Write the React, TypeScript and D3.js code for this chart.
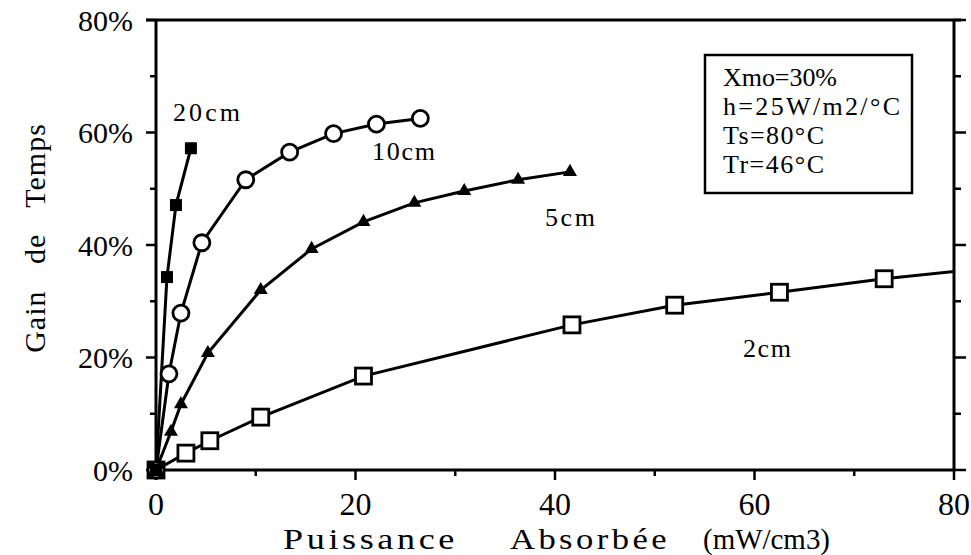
import * as d3 from "d3";

// valeurs (x en mW/cm3, y en fraction)
const s20x = [0, 1.1, 2.0, 3.5];
const s20y = [0, 0.343, 0.471, 0.572];

const s10x = [0, 1.3, 2.5, 4.6, 9.0, 13.4, 17.8, 22.1, 26.5];
const s10y = [0, 0.171, 0.279, 0.404, 0.516, 0.565, 0.598, 0.615, 0.625];

const s5x = [0, 1.5, 2.5, 5.2, 10.5, 15.6, 20.8, 25.9, 30.9, 36.3, 41.5];
const s5y = [0, 0.068, 0.117, 0.208, 0.32, 0.393, 0.441, 0.475, 0.496, 0.516, 0.53];

const s2x = [0, 3.0, 5.4, 10.5, 20.8, 41.7, 52.0, 62.5, 73.0, 85.0];
const s2y = [0, 0.03, 0.052, 0.094, 0.167, 0.258, 0.293, 0.316, 0.34, 0.362];

const xTicks = [0, 20, 40, 60, 80];
const yTicks = [0, 0.2, 0.4, 0.6, 0.8];
const xMinor = [10, 30, 50, 70];
const yMinor = [0.1, 0.3, 0.5, 0.7];

const boxLines = ["Xmo=30%", "h=25W/m2/°C", "Ts=80°C", "Tr=46°C"];
const boxLen = [114, 177, 101, 101];

const xTitle = ["Puissance", "Absorbée", "(mW/cm3)"];
const xTitlePos = [283, 510, 703];
const xTitleLen = [175, 160, 127];
const xTitleGap = [3, 3, 0];

const W = 971;
const H = 555;
const FONT = "'Liberation Serif', 'Times New Roman', serif";

const x = d3.scaleLinear().domain([0, 80]).range([156, 954]);
const y = d3.scaleLinear().domain([0, 0.8]).range([470, 20]);

const zip = (xs: number[], ys: number[]) => xs.map((v, i) => [v, ys[i]] as [number, number]);

const line = d3
  .line<[number, number]>()
  .x((d) => x(d[0]))
  .y((d) => y(d[1]));

const tri = d3.symbol().type(d3.symbolTriangle).size(85)();

export default function App() {
  const p20 = zip(s20x, s20y);
  const p10 = zip(s10x, s10y);
  const p5 = zip(s5x, s5y);
  const p2 = zip(s2x, s2y);

  return (
    <svg
      width={W}
      height={H}
      style={{ position: "absolute", left: 0, top: 0, background: "#fff", fontFamily: FONT }}
    >
      <defs>
        <clipPath id="plot">
          <rect x={x(0) - 12} y={y(0.8)} width={x(80) - x(0) + 12} height={y(0) - y(0.8) + 12} />
        </clipPath>
      </defs>

      {/* cadre */}
      <line x1={146} x2={961} y1={y(0.8)} y2={y(0.8)} stroke="#000" strokeWidth={3} />
      <line x1={x(0)} x2={x(0)} y1={y(0.8)} y2={y(0)} stroke="#000" strokeWidth={3} />
      <line x1={x(80)} x2={x(80)} y1={y(0.8)} y2={y(0)} stroke="#000" strokeWidth={3} />
      <line x1={x(0)} x2={x(80)} y1={y(0)} y2={y(0)} stroke="#000" strokeWidth={3} />

      {/* graduations */}
      {yTicks.map((t) => (
        <g key={"y" + t}>
          <line x1={x(0) - 10} x2={x(0)} y1={y(t)} y2={y(t)} stroke="#000" strokeWidth={2.5} />
          <line x1={x(80)} x2={x(80) + 12} y1={y(t)} y2={y(t)} stroke="#000" strokeWidth={2.5} />
          <text x={133} y={y(t)} dy="0.35em" textAnchor="end" fontSize={30}>
            {d3.format(".0%")(t)}
          </text>
        </g>
      ))}
      {yMinor.map((t) => (
        <g key={"ym" + t}>
          <line x1={x(0) - 6} x2={x(0)} y1={y(t)} y2={y(t)} stroke="#000" strokeWidth={2.5} />
          <line x1={x(80)} x2={x(80) + 7} y1={y(t)} y2={y(t)} stroke="#000" strokeWidth={2.5} />
        </g>
      ))}
      {xTicks.map((t) => (
        <g key={"x" + t}>
          <line x1={x(t)} x2={x(t)} y1={y(0)} y2={y(0) + 10} stroke="#000" strokeWidth={2.5} />
          <text x={x(t)} y={515} textAnchor="middle" fontSize={32}>
            {t}
          </text>
        </g>
      ))}
      {xMinor.map((t) => (
        <line key={"xm" + t} x1={x(t)} x2={x(t)} y1={y(0)} y2={y(0) + 6} stroke="#000" strokeWidth={2.5} />
      ))}

      {/* titres des axes */}
      {xTitle.map((s, i) => (
        <text
          key={s}
          x={xTitlePos[i]}
          y={549}
          fontSize={30}
          letterSpacing={xTitleGap[i]}
          textLength={xTitleLen[i]}
          lengthAdjust="spacingAndGlyphs"
        >
          {s}
        </text>
      ))}
      <text
        transform="translate(45,238) rotate(-90)"
        textAnchor="middle"
        fontSize={30}
        wordSpacing={18}
        letterSpacing={1}
      >
        Gain de Temps
      </text>

      {/* courbes */}
      <g clipPath="url(#plot)" fill="none" stroke="#000" strokeWidth={3}>
        <path d={line(p2) ?? ""} />
        <path d={line(p5) ?? ""} />
        <path d={line(p10) ?? ""} />
        <path d={line(p20) ?? ""} />

        {p2.map((d, i) => (
          <rect key={"q" + i} x={x(d[0]) - 8} y={y(d[1]) - 8} width={16} height={16} fill="#fff" strokeWidth={2.8} />
        ))}
        {p5.map((d, i) => (
          <path key={"t" + i} d={tri ?? ""} transform={`translate(${x(d[0])},${y(d[1])})`} fill="#000" stroke="none" />
        ))}
        {p10.map((d, i) => (
          <circle key={"c" + i} cx={x(d[0])} cy={y(d[1])} r={8} fill="#fff" strokeWidth={2.8} />
        ))}
        {p20.map((d, i) => (
          <rect key={"f" + i} x={x(d[0]) - 6} y={y(d[1]) - 6} width={12} height={12} fill="#000" stroke="none" />
        ))}
      </g>

      {/* étiquettes des séries */}
      <text x={173} y={121} fontSize={26} textLength={67} lengthAdjust="spacing">20cm</text>
      <text x={372} y={160} fontSize={26} textLength={63} lengthAdjust="spacing">10cm</text>
      <text x={545} y={226} fontSize={26} textLength={50} lengthAdjust="spacing">5cm</text>
      <text x={743} y={357} fontSize={26} textLength={48} lengthAdjust="spacing">2cm</text>

      {/* encadré des paramètres */}
      <rect x={705} y={55} width={207} height={138} fill="#fff" stroke="#000" strokeWidth={2.5} />
      {boxLines.map((s, i) => (
        <text key={s} x={723} y={86 + i * 29} fontSize={26} textLength={boxLen[i]} lengthAdjust="spacing">
          {s}
        </text>
      ))}
    </svg>
  );
}
